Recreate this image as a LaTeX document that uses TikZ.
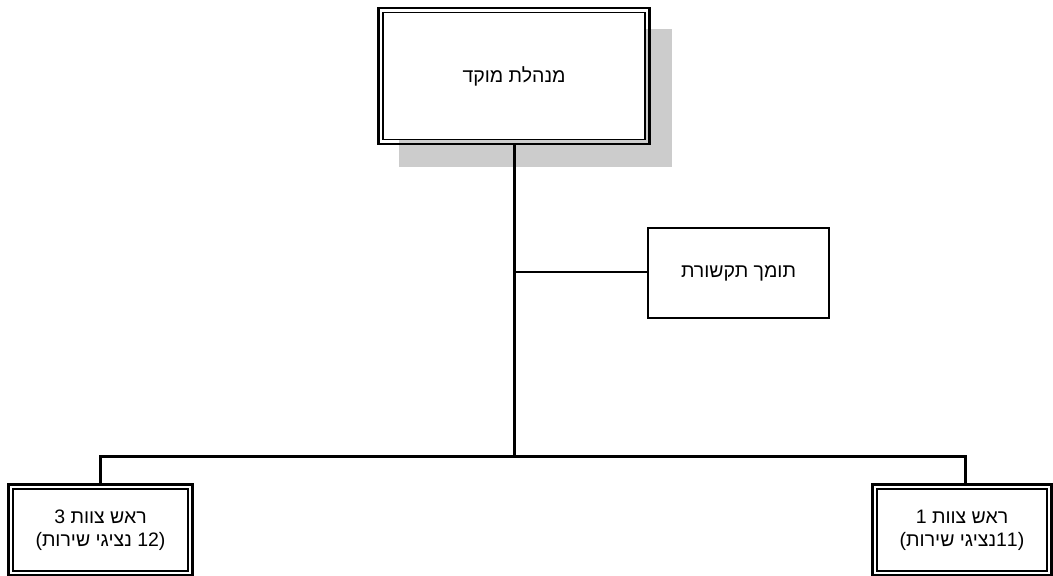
\documentclass[tikz,border=0pt]{standalone}
\usepackage{fontspec}
\setmainfont{Liberation Sans}
\newfontfamily\hebfont[Script=Hebrew]{Liberation Sans}
\TeXXeTstate=1
% parentheses set in the plain Latin face so they keep their LTR shape
\newcommand{\lpar}{{\rmfamily(}}
\newcommand{\rpar}{{\rmfamily)}}
\begin{document}
\begin{tikzpicture}[x=1pt,y=-1pt,
  boxtext/.style={font=\hebfont\fontsize{19.5}{23}\selectfont, align=center},
  framed/.style={draw, fill=white, line width=1.3pt, inner sep=0pt, outer sep=4.5pt, boxtext},
  plainbox/.style={draw, fill=white, line width=1.3pt, inner sep=0pt, boxtext},
  outerframe/.style={line width=2.5pt},
  trunk/.style={line width=3pt},
  twig/.style={line width=2.4pt},
  shade/.style={fill=black!20}
]
\useasboundingbox (0,0) rectangle (1053,576);

% drop shadow behind the management box
\fill[shade] (399,29) rectangle (672,167);

% boxes (inner frame is the node border, outer frame drawn on the anchors)
\node[framed, minimum width=262pt, minimum height=127pt] (mgmt) at (514,76)
  {\beginR מנהלת מוקד\endR};
\node[plainbox, minimum width=181pt, minimum height=90pt] (comm) at (738.5,273)
  {\beginR תומך תקשורת\endR};
\node[framed, minimum width=175pt, minimum height=82pt] (lead3) at (100.5,530)
  {\beginR ראש צוות 3\endR\\\lpar\beginR\beginL12\endL{} נציגי שירות\endR\rpar};
\node[framed, minimum width=170pt, minimum height=82pt] (lead1) at (962,530)
  {\beginR ראש צוות 1\endR\\\lpar\beginR\beginL11\endL נציגי שירות\endR\rpar};

\foreach \n in {mgmt,lead3,lead1}
  \draw[outerframe] (\n.north west) rectangle (\n.south east);

% connectors
\coordinate (hub) at (514,272);
\coordinate (split) at (514,456);
\coordinate (splitL) at (100.5,456);
\coordinate (splitR) at (965,456);

\draw[trunk] (mgmt.south) -- (split);
\draw[twig] (hub) -- (hub -| comm.west);
\draw[trunk] (lead3.north) -- (splitL) -- (splitR) -- (splitR |- lead1.north);
\end{tikzpicture}
\end{document}
